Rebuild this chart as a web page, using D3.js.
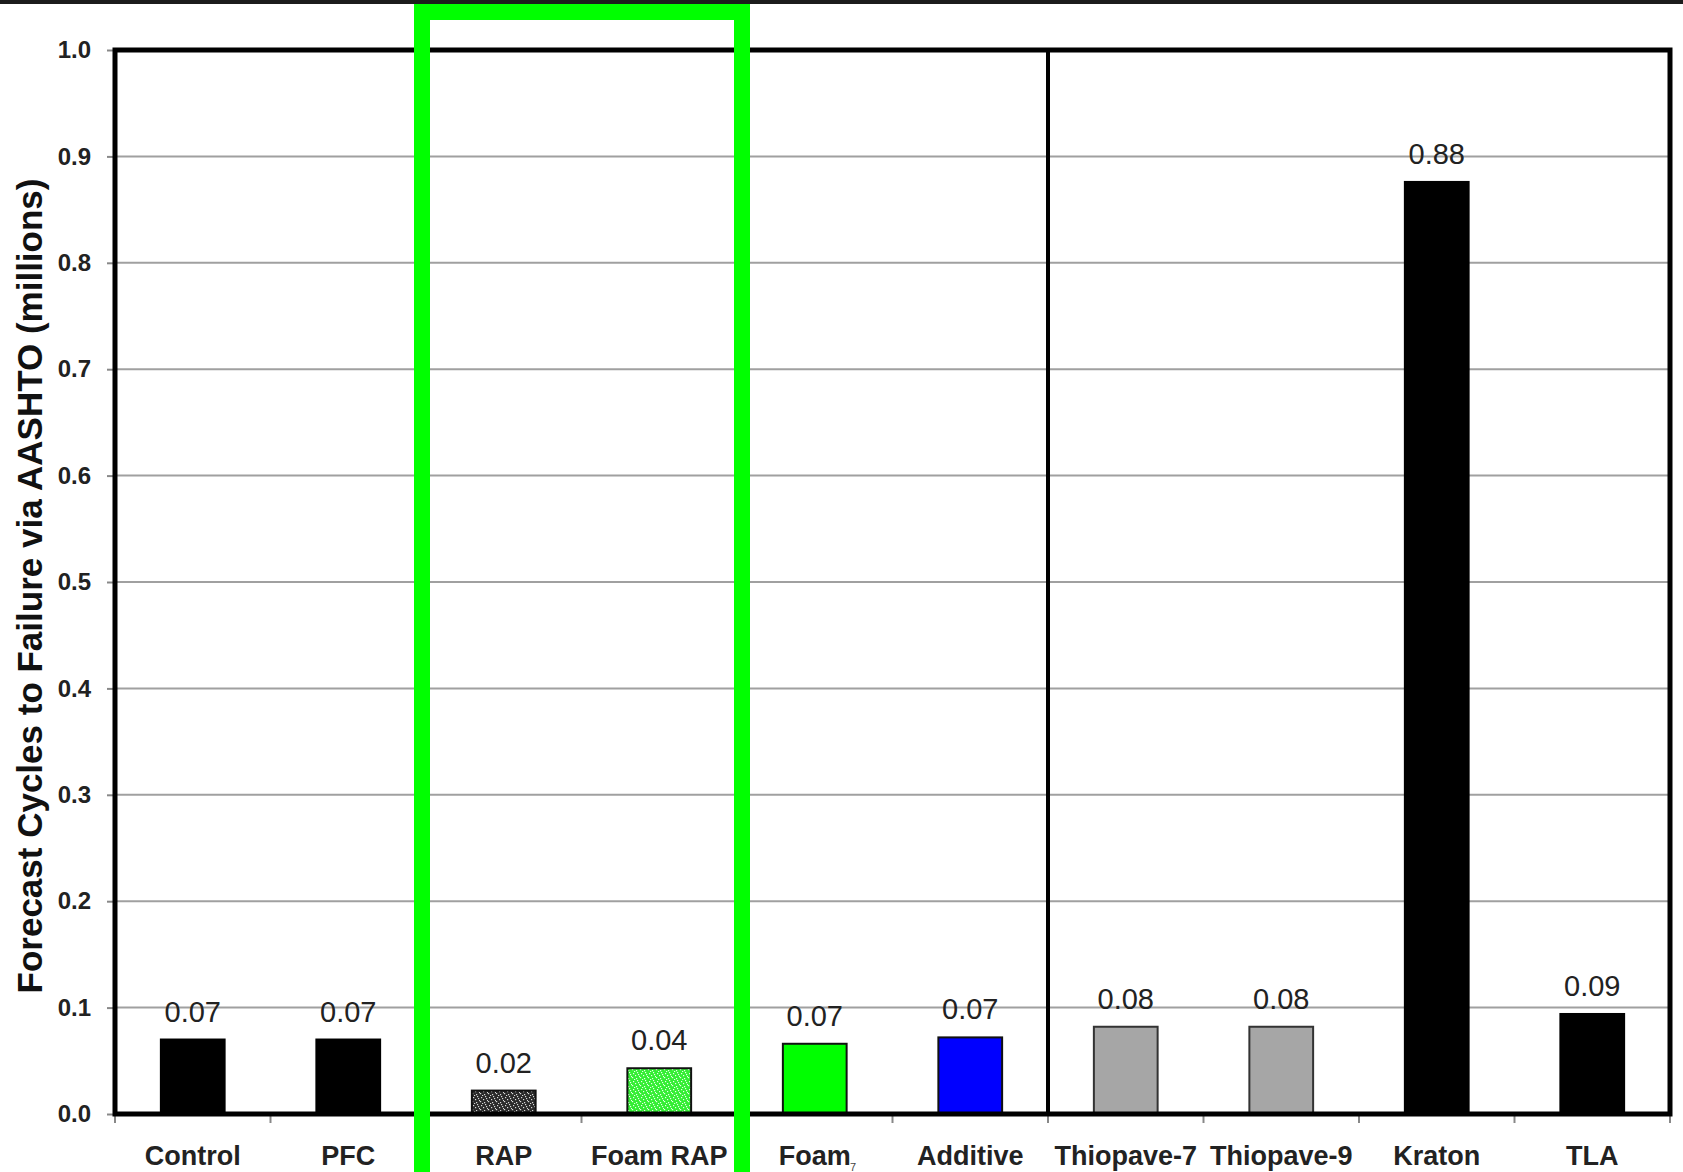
<!DOCTYPE html>
<html>
<head>
<meta charset="utf-8">
<script src="https://cdn.jsdelivr.net/npm/d3@7/dist/d3.min.js"></script>
<style>
  html, body { margin: 0; padding: 0; background: #ffffff; }
  svg { display: block; }
  text { font-family: Arial, "Liberation Sans", sans-serif; }
</style>
</head>
<body>
<svg id="chart" width="1683" height="1172"></svg>
<script>
// Mixture categories and forecast cycles to failure (millions)
const categories = ["Control", "PFC", "RAP", "Foam RAP", "Foam", "Additive",
                    "Thiopave-7", "Thiopave-9", "Kraton", "TLA"];
const values = [0.070, 0.070, 0.022, 0.043, 0.066, 0.072, 0.082, 0.082, 0.876, 0.094];
const yTicks = [0.0, 0.1, 0.2, 0.3, 0.4, 0.5, 0.6, 0.7, 0.8, 0.9, 1.0];
const yTitle = "Forecast Cycles to Failure via AASHTO (millions)";
// Group divider sits before this category
const dividerBefore = "Thiopave-7";
// Highlighted group
const highlighted = ["RAP", "Foam RAP"];

const W = 1683, H = 1172;
const plot = { left: 115, right: 1670, top: 50, bottom: 1114 };

const svg = d3.select("#chart");

// Speckled fills for the RAP mixes
const defs = svg.append("defs");
function speckle(id, bg, dot) {
  const p = defs.append("pattern")
    .attr("id", id).attr("patternUnits", "userSpaceOnUse")
    .attr("width", 8).attr("height", 8);
  p.append("rect").attr("width", 8).attr("height", 8).attr("fill", bg);
  const dots = [[1,1],[5,0],[3,3],[7,4],[0,5],[4,6],[6,2],[2,7]];
  dots.forEach(([dx, dy]) => p.append("rect")
    .attr("x", dx).attr("y", dy).attr("width", 1.2).attr("height", 1.2)
    .attr("fill", dot));
}
speckle("rapFill", "#2a2a2a", "#d8d8d8");
speckle("foamRapFill", "#33ee33", "#e8ffe8");

const fillScale = d3.scaleOrdinal(categories, [
  "#000000", "#000000", "url(#rapFill)", "url(#foamRapFill)", "#00ff00",
  "#0000ff", "#a6a6a6", "#a6a6a6", "#000000", "#000000"]);
const strokeScale = d3.scaleOrdinal(categories, [
  "#000000", "#000000", "#111111", "#111111", "#111111",
  "#111111", "#333333", "#333333", "#000000", "#000000"]);

const x = d3.scaleBand()
  .domain(categories)
  .range([plot.left, plot.right])
  .paddingInner(0.59)
  .paddingOuter(0.295);

const y = d3.scaleLinear().domain([0, 1]).range([plot.bottom, plot.top]);

// category boundary positions
const boundary = i => plot.left + i * x.step();

// dark strip along the top edge
svg.append("rect").attr("x", 0).attr("y", 0).attr("width", W).attr("height", 4)
  .attr("fill", "#1c1c1c");

// horizontal gridlines
svg.append("g")
  .selectAll("line")
  .data(yTicks.filter(t => t > 0 && t < 1))
  .join("line")
  .attr("x1", plot.left).attr("x2", plot.right)
  .attr("y1", d => y(d)).attr("y2", d => y(d))
  .attr("stroke", "#a0a0a0").attr("stroke-width", 2);

// y axis: ticks and labels
const yAxis = d3.axisLeft(y)
  .tickValues(yTicks)
  .tickFormat(d3.format(".1f"))
  .tickSize(8)
  .tickPadding(16);
const yg = svg.append("g")
  .attr("transform", `translate(${plot.left},0)`)
  .call(yAxis);
yg.select(".domain").remove();
yg.selectAll(".tick line").attr("stroke", "#888").attr("stroke-width", 2);
yg.selectAll(".tick text")
  .attr("font-size", 24).attr("font-weight", "bold")
  .attr("fill", "#222").attr("font-family", "Arial, 'Liberation Sans', sans-serif");

// x axis: boundary ticks and category labels
svg.append("g")
  .selectAll("line")
  .data(d3.range(categories.length + 1).map(boundary))
  .join("line")
  .attr("x1", d => d).attr("x2", d => d)
  .attr("y1", plot.bottom).attr("y2", plot.bottom + 9)
  .attr("stroke", "#888").attr("stroke-width", 2);

svg.append("g")
  .selectAll("text")
  .data(categories)
  .join("text")
  .attr("x", d => x(d) + x.bandwidth() / 2)
  .attr("y", 1165)
  .attr("text-anchor", "middle")
  .attr("font-size", 27).attr("font-weight", "bold")
  .attr("fill", "#222")
  .text(d => d);

// bars
svg.append("g")
  .selectAll("rect")
  .data(categories.map((c, i) => ({ c, v: values[i] })))
  .join("rect")
  .attr("x", d => x(d.c))
  .attr("y", d => y(d.v))
  .attr("width", x.bandwidth())
  .attr("height", d => y(0) - y(d.v))
  .attr("fill", d => fillScale(d.c))
  .attr("stroke", d => strokeScale(d.c))
  .attr("stroke-width", 2);

// value labels
const fmt = d3.format(".2f");
svg.append("g")
  .selectAll("text")
  .data(categories.map((c, i) => ({ c, v: values[i] })))
  .join("text")
  .attr("x", d => x(d.c) + x.bandwidth() / 2)
  .attr("y", d => y(d.v) - 18)
  .attr("text-anchor", "middle")
  .attr("font-size", 29)
  .attr("fill", "#222")
  .text(d => fmt(d.v));

// plot frame and group divider
const frame = svg.append("g").attr("stroke", "#000").attr("fill", "none");
frame.append("path")
  .attr("d", `M${plot.left},${plot.bottom} V${plot.top} H${plot.right} V${plot.bottom} Z`)
  .attr("stroke-width", 5).attr("stroke-linejoin", "miter");
const divX = boundary(categories.indexOf(dividerBefore));
frame.append("line")
  .attr("x1", divX).attr("x2", divX)
  .attr("y1", plot.top).attr("y2", plot.bottom)
  .attr("stroke-width", 4);

// y axis title
svg.append("text")
  .attr("transform", `translate(42,${(plot.top + plot.bottom) / 2 + 4}) rotate(-90)`)
  .attr("text-anchor", "middle")
  .attr("font-size", 35).attr("font-weight", "bold")
  .attr("fill", "#111")
  .text(yTitle);

// page number mark
svg.append("text")
  .attr("x", 853).attr("y", 1171)
  .attr("text-anchor", "middle")
  .attr("font-size", 11)
  .attr("fill", "#444")
  .text("7");

// highlight box around the RAP group
const hx0 = boundary(categories.indexOf(highlighted[0])) - 4;
const hx1 = boundary(categories.indexOf(highlighted[highlighted.length - 1]) + 1) + 5;
svg.append("path")
  .attr("d", `M${hx0},${H + 20} V12 H${hx1} V${H + 20}`)
  .attr("fill", "none")
  .attr("stroke", "#00ff00")
  .attr("stroke-width", 16)
  .attr("stroke-linejoin", "miter");
</script>
</body>
</html>
